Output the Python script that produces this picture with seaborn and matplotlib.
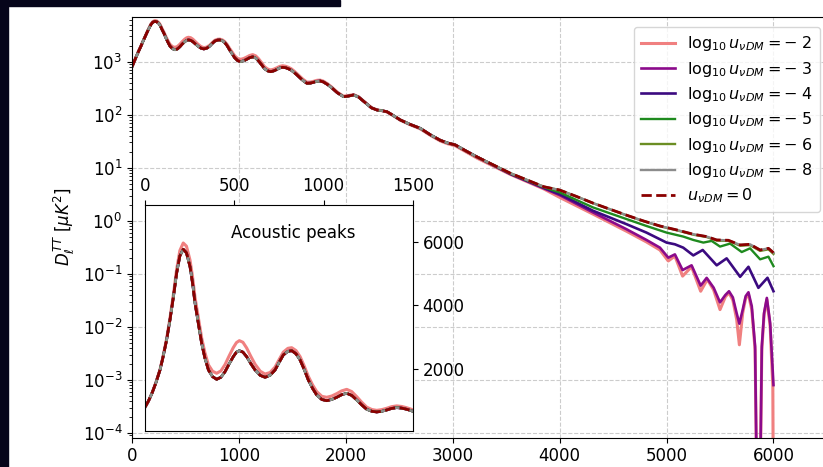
import matplotlib
matplotlib.use("Agg")
import matplotlib.pyplot as plt
import seaborn as sns
from matplotlib.patches import Rectangle

# multipoles shared by all models below ell ~ 3300
ell_low = [2, 20, 40, 60, 84, 100, 121, 140, 160, 177, 195, 214, 232, 252, 266,
           280, 300, 317, 335, 355, 378, 401, 425, 448, 470, 494, 512, 528, 548,
           569, 592, 616, 645, 672, 700, 728, 752, 774, 800, 821, 845, 868, 890,
           914, 938, 961, 990, 1017, 1045, 1073, 1100, 1129, 1157, 1185, 1213,
           1241, 1270, 1297, 1325, 1353, 1380, 1409, 1437, 1465, 1490, 1511, 1540,
           1570, 1600, 1636, 1670, 1700, 1730, 1760, 1790, 1830, 1870, 1920, 1978,
           2025, 2072, 2120, 2180, 2240, 2291, 2340, 2385, 2440, 2509, 2600, 2697,
           2790, 2884, 2950, 3024, 3120, 3228]

# D_ell^TT [muK^2] at low ell: standard spectrum
dl_low_ref = [815, 1000, 1250, 1550, 1969, 2350, 2911, 3550, 4300, 5008, 5550,
              5762, 5650, 5215, 4700, 4065, 3380, 2808, 2350, 1969, 1760, 1676,
              1740, 1916, 2150, 2387, 2530, 2575, 2530, 2387, 2170, 1969, 1800,
              1739, 1800, 1969, 2220, 2440, 2555, 2575, 2480, 2283, 2000, 1654,
              1390, 1183, 1040, 1004, 1040, 1110, 1190, 1236, 1170, 1026, 870,
              733, 670, 649, 670, 711, 760, 784, 770, 733, 690, 639, 570, 500,
              440, 392, 395, 410, 428, 433, 415, 370, 320, 260, 219, 225, 236,
              215, 170, 135, 123, 119, 114, 98, 80, 66, 55.5, 42, 33, 29.5, 27,
              21, 16]

# D_ell^TT [muK^2] at low ell for log10 u = -2
dl_low_m2 = [815, 1000, 1255, 1560, 1985, 2375, 2950, 3610, 4390, 5130, 5720,
             5960, 5860, 5420, 4900, 4250, 3560, 2980, 2520, 2130, 1930, 1865,
             1940, 2140, 2400, 2670, 2830, 2890, 2840, 2660, 2400, 2150, 1930,
             1840, 1890, 2060, 2310, 2530, 2650, 2670, 2580, 2390, 2110, 1770,
             1500, 1290, 1140, 1110, 1150, 1225, 1310, 1360, 1290, 1130, 955,
             800, 725, 700, 722, 765, 815, 840, 822, 782, 735, 680, 605, 530,
             466, 412, 414, 428, 446, 450, 430, 383, 330, 267, 224, 230, 240,
             218, 172, 136, 124, 119, 113, 97, 79, 65, 54, 41, 32, 28.5, 26,
             20.2, 15.2]

# damping tail, one set of multipoles per model
ell_hi_ref = [3539, 3851, 4000, 4156, 4312, 4469, 4625, 4781, 4938, 5094, 5250,
              5375, 5469, 5578, 5688, 5781, 5875, 5953, 6000]
dl_hi_ref = [7.9, 4.4, 3.81, 2.89, 2.16, 1.66, 1.28, 1.0, 0.80, 0.675, 0.559,
             0.505, 0.436, 0.430, 0.351, 0.361, 0.282, 0.303, 0.251]
dl_hi_m8 = [7.9, 4.4, 3.81, 2.89, 2.16, 1.66, 1.28, 1.0, 0.80, 0.675, 0.559,
            0.505, 0.436, 0.430, 0.351, 0.361, 0.282, 0.303, 0.251]
dl_hi_m6 = [7.9, 4.4, 3.80, 2.88, 2.15, 1.65, 1.27, 0.99, 0.79, 0.665, 0.548,
            0.495, 0.425, 0.418, 0.340, 0.348, 0.271, 0.290, 0.238]

ell_hi_m5 = [3539, 3851, 4000, 4312, 4625, 4812, 5000, 5156, 5250, 5344, 5422,
             5500, 5594, 5703, 5781, 5875, 5953, 6000]
dl_hi_m5 = [7.8, 4.3, 3.44, 1.79, 1.08, 0.80, 0.60, 0.505, 0.436, 0.389, 0.418,
            0.327, 0.372, 0.258, 0.303, 0.188, 0.211, 0.140]

ell_hi_m4 = [3539, 3851, 4000, 4312, 4625, 4812, 5000, 5078, 5156, 5250, 5338,
             5469, 5562, 5688, 5766, 5859, 5944, 6000]
dl_hi_m4 = [7.7, 4.2, 3.2, 1.55, 0.865, 0.60, 0.389, 0.361, 0.312, 0.223, 0.282,
            0.145, 0.196, 0.088, 0.136, 0.0545, 0.0844, 0.047]

ell_hi_m3 = [3539, 3851, 4000, 4312, 4625, 4812, 4938, 5016, 5078, 5150, 5234,
             5319, 5375, 5440, 5500, 5550, 5584, 5620, 5656, 5681, 5712, 5740,
             5766, 5797, 5828, 5844, 5859, 5875, 5891, 5912, 5938, 5969, 6000]
dl_hi_m3 = [7.6, 4.1, 3.06, 1.44, 0.695, 0.436, 0.312, 0.202, 0.233, 0.118,
            0.145, 0.060, 0.084, 0.055, 0.029, 0.040, 0.047, 0.036, 0.018,
            0.0115, 0.021, 0.038, 0.045, 0.0245, 0.0043, 1e-5, 1e-6, 1e-5,
            0.0043, 0.0183, 0.0352, 0.0118, 8e-4]

ell_hi_m2 = [3539, 3851, 4000, 4312, 4625, 4812, 4938, 5016, 5078, 5150, 5234,
             5319, 5381, 5440, 5500, 5550, 5584, 5620, 5656, 5681, 5712, 5740,
             5766, 5797, 5828, 5844, 5859, 5875, 5891, 5912, 5938, 5969, 5994,
             6000]
dl_hi_m2 = [7.5, 4.0, 2.77, 1.34, 0.637, 0.40, 0.282, 0.175, 0.217, 0.0907,
            0.136, 0.047, 0.0785, 0.050, 0.0212, 0.037, 0.0438, 0.032, 0.0137,
            0.0046, 0.0183, 0.035, 0.0408, 0.0212, 0.0037, 1e-5, 1e-6, 1e-5,
            0.0037, 0.017, 0.0328, 0.0102, 7.5e-4, 1e-6]

labels = [r"$\log_{10} u_{\nu DM} = -\;2$", r"$\log_{10} u_{\nu DM} = -\;3$",
          r"$\log_{10} u_{\nu DM} = -\;4$", r"$\log_{10} u_{\nu DM} = -\;5$",
          r"$\log_{10} u_{\nu DM} = -\;6$", r"$\log_{10} u_{\nu DM} = -\;8$",
          r"$u_{\nu DM} = 0$"]
colors = ["#f08080", "#8b0a8b", "#3b0a80", "#1e8a1e", "#6b8e23", "#8c8c8c", "#8b0000"]
widths = [2.2, 1.9, 1.9, 1.7, 1.7, 1.7, 2.0]
styles = ["-", "-", "-", "-", "-", "-", "--"]

series_ell = [ell_low + ell_hi_m2, ell_low + ell_hi_m3, ell_low + ell_hi_m4,
              ell_low + ell_hi_m5, ell_low + ell_hi_ref, ell_low + ell_hi_ref,
              ell_low + ell_hi_ref]
series_dl = [dl_low_m2 + dl_hi_m2, dl_low_ref + dl_hi_m3, dl_low_ref + dl_hi_m4,
             dl_low_ref + dl_hi_m5, dl_low_ref + dl_hi_m6, dl_low_ref + dl_hi_m8,
             dl_low_ref + dl_hi_ref]

plt.rcParams["font.family"] = ["DejaVu Sans"]
plt.rcParams["font.size"] = 12

W, H = 823, 467
fig = plt.figure(figsize=(W / 100, H / 100), dpi=100)
fig.patch.set_facecolor("white")

# dark surround along the left and top edges
fig.patches.append(Rectangle((0, 0), 8 / W, 1, transform=fig.transFigure,
                             color="#06051a", zorder=-10))
fig.patches.append(Rectangle((0, 1 - 6 / H), 340 / W, 6 / H,
                             transform=fig.transFigure, color="#06051a", zorder=-10))

ax = fig.add_axes([132 / W, (H - 437.5) / H, 696 / W, 420.5 / H])
for e, d, lab, c, lw, ls in zip(series_ell, series_dl, labels, colors, widths, styles):
    sns.lineplot(x=e, y=d, ax=ax, color=c, linewidth=lw, linestyle=ls,
                 label=lab, estimator=None, sort=False, legend=False)
ax.set_yscale("log")
ax.set_xlim(0, 6510)
ax.set_ylim(10 ** -4.085, 10 ** 3.843)
ax.set_xticks([0, 1000, 2000, 3000, 4000, 5000, 6000])
ax.grid(True, which="major", linestyle="--", color="#cccccc", linewidth=0.8)
ax.set_ylabel(r"$D_\ell^{TT}$ [$\mu K^2$]")
ax.xaxis.label.set_visible(False)
ax.legend(loc="upper right", fontsize=11.5, handlelength=2.1,
          labelspacing=0.4, borderpad=0.45, bbox_to_anchor=(1.0, 0.995))

# zoom on the acoustic peaks, linear scale
ins = fig.add_axes([145 / W, (H - 431) / H, 268 / W, 226 / H])
ins.set_facecolor("white")
for e, d, c, lw, ls in zip(series_ell, series_dl, colors, widths, styles):
    sns.lineplot(x=e, y=d, ax=ins, color=c, linewidth=lw, linestyle=ls,
                 estimator=None, sort=False, legend=False)
ins.set_xlim(0, 1500)
ins.set_ylim(51, 7154)
ins.set_xticks([0, 500, 1000, 1500])
ins.set_yticks([2000, 4000, 6000])
ins.xaxis.tick_top()
ins.yaxis.tick_right()
ins.xaxis.label.set_visible(False)
ins.yaxis.label.set_visible(False)
ins.grid(False)
ins.text(0.554, 0.876, "Acoustic peaks", transform=ins.transAxes,
         ha="center", va="center", fontsize=12)

fig.savefig("out.png", dpi=100)
